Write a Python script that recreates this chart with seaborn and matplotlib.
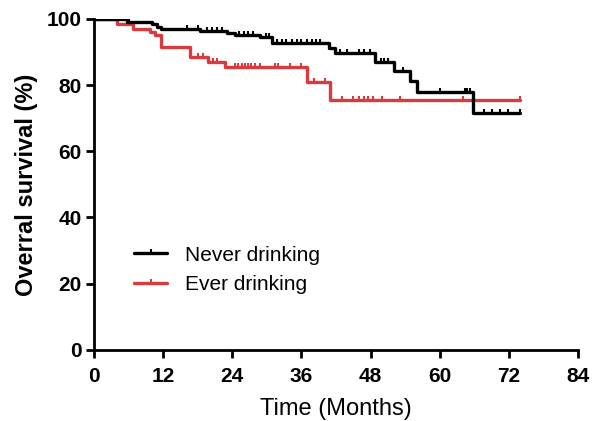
import numpy as np
import pandas as pd
import matplotlib
matplotlib.use('Agg')
import matplotlib.pyplot as plt
from matplotlib.lines import Line2D
import seaborn as sns

# Step curves (time in months, survival in %)
never_t = [0, 5.8, 10.0, 10.9, 11.7, 18.4, 23.0, 24.5, 28.8, 30.8, 40.7, 41.8, 48.8, 52.0, 54.8, 56.0, 65.8, 74.0]
never_s = [100, 99.2, 98.4, 97.6, 97.0, 96.4, 95.8, 95.1, 94.4, 92.8, 91.3, 89.6, 87.0, 84.2, 81.2, 77.8, 71.6, 71.6]
ever_t = [0, 3.9, 6.8, 9.7, 10.6, 11.7, 16.7, 19.8, 22.7, 36.9, 41.0, 74.0]
ever_s = [100, 98.6, 97.1, 96.0, 95.1, 91.5, 88.5, 87.0, 85.5, 80.9, 75.4, 75.4]

# censored observations
never_cens = [4.8, 5.4, 6.0, 16.1, 18.1, 19.6, 20.4, 21.3, 22.2, 25.2, 26.0, 26.8, 27.6, 29.8, 30.4,
              31.7, 32.6, 33.4, 34.3, 35.2, 36.0, 36.9, 37.8, 38.6, 39.2, 42.7, 43.9, 45.9, 46.8, 47.9,
              49.8, 50.4, 51.0, 53.7, 60.0, 64.3, 64.8, 65.3, 67.6, 69.0, 70.5, 71.9, 73.9]
ever_cens = [18.0, 18.9, 20.6, 21.3, 24.5, 25.0, 25.6, 26.2, 26.7, 27.3, 27.9, 28.8, 31.4, 32.0, 34.0, 36.0,
             38.1, 40.1, 43.0, 45.0, 45.9, 46.8, 47.6, 48.5, 49.9, 53.1, 64.1, 73.9]

groups = ['Never drinking', 'Ever drinking']
colors = {'Never drinking': '#000000', 'Ever drinking': '#d83b3d'}

df = pd.concat([
    pd.DataFrame({'time': never_t, 'surv': never_s, 'group': groups[0]}),
    pd.DataFrame({'time': ever_t, 'surv': ever_s, 'group': groups[1]}),
])


def level_at(times, t_steps, s_steps):
    idx = np.searchsorted(t_steps, times, side='right') - 1
    return np.asarray(s_steps)[idx]


sns.set_style('ticks')
plt.rcParams['font.family'] = ['Liberation Sans', 'DejaVu Sans']
plt.rcParams['text.color'] = 'black'
plt.rcParams['axes.labelcolor'] = 'black'
plt.rcParams['xtick.color'] = 'black'
plt.rcParams['ytick.color'] = 'black'
plt.rcParams['axes.edgecolor'] = 'black'

fig = plt.figure(figsize=(5.99, 4.21), dpi=100)
ax = fig.add_axes([0.157, 0.169, 0.808, 0.786])

sns.lineplot(data=df, x='time', y='surv', hue='group', hue_order=groups[::-1], palette=colors,
             drawstyle='steps-post', estimator=None, linewidth=2.4, legend=False, ax=ax)

ax.plot(ever_cens, level_at(ever_cens, ever_t, ever_s), linestyle='none', marker=2,
        markersize=2.6, markeredgewidth=1.5, color=colors['Ever drinking'])
ax.plot(never_cens, level_at(never_cens, never_t, never_s), linestyle='none', marker=2,
        markersize=2.6, markeredgewidth=1.5, color=colors['Never drinking'])

ax.set_xlim(0, 84)
ax.set_ylim(0, 100)
ax.set_xticks(np.arange(0, 85, 12))
ax.set_yticks(np.arange(0, 101, 20))
ax.set_xlabel('Time (Months)', fontsize=17, labelpad=9)
ax.set_ylabel('Overral survival (%)', fontsize=17, fontweight='bold', labelpad=6)
ax.tick_params(width=2, length=6, labelsize=15, pad=3)
ax.tick_params(axis='x', pad=6)
for lab in ax.get_xticklabels() + ax.get_yticklabels():
    lab.set_fontweight('bold')
for side in ['left', 'bottom']:
    ax.spines[side].set_linewidth(2)
sns.despine(ax=ax)

handles = [Line2D([], [], color=colors[g], linewidth=2.4, marker=2, markersize=2.6,
                  markeredgewidth=1.5) for g in groups]
ax.legend(handles, groups, loc='upper left', bbox_to_anchor=(0.065, 0.34), frameon=False,
          fontsize=15, handlelength=1.6, handletextpad=0.85, labelspacing=0.5, numpoints=1,
          borderaxespad=0)

fig.savefig('out.png', dpi=100)
